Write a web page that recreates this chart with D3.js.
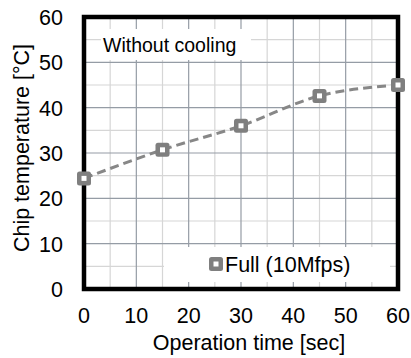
<!DOCTYPE html>
<html>
<head>
<meta charset="utf-8">
<script src="https://cdn.jsdelivr.net/npm/d3@7"></script>
<style>
  body { margin: 0; background: #fff; }
  text { font-family: "Liberation Sans", Arial, sans-serif; fill: #000; }
</style>
</head>
<body>
<div id="chart"></div>
<script>
const timeSec = [0, 15, 30, 45, 60];
const chipTemp = [24.4, 30.7, 36, 42.6, 45];
const xTicks = [0, 10, 20, 30, 40, 50, 60];
const yTicks = [0, 10, 20, 30, 40, 50, 60];
const minorTicks = [5, 15, 25, 35, 45, 55];
const seriesName = 'Full (10Mfps)';
const noteText = 'Without cooling';

const width = 411;
const height = 358;
const margin = { top: 17, right: 13, bottom: 69, left: 84 };

const svg = d3.select('#chart').append('svg')
  .attr('width', width)
  .attr('height', height);

const x = d3.scaleLinear().domain([0, 60]).range([margin.left, width - margin.right]);
const y = d3.scaleLinear().domain([0, 60]).range([height - margin.bottom, margin.top]);

const grid = svg.append('g');

// minor grid
grid.selectAll('.vminor').data(minorTicks).enter().append('line')
  .attr('x1', d => x(d)).attr('x2', d => x(d))
  .attr('y1', y(60)).attr('y2', y(0))
  .attr('stroke', '#d6d6d6').attr('stroke-width', 1.2);
grid.selectAll('.hminor').data(minorTicks).enter().append('line')
  .attr('y1', d => y(d)).attr('y2', d => y(d))
  .attr('x1', x(0)).attr('x2', x(60))
  .attr('stroke', '#d6d6d6').attr('stroke-width', 1.2);

// major grid
grid.selectAll('.vmajor').data(xTicks).enter().append('line')
  .attr('x1', d => x(d)).attr('x2', d => x(d))
  .attr('y1', y(60)).attr('y2', y(0))
  .attr('stroke', '#959ca5').attr('stroke-width', 1.2);
grid.selectAll('.hmajor').data(yTicks).enter().append('line')
  .attr('y1', d => y(d)).attr('y2', d => y(d))
  .attr('x1', x(0)).attr('x2', x(60))
  .attr('stroke', '#959ca5').attr('stroke-width', 1.2);

// note box
svg.append('rect')
  .attr('x', 101).attr('y', 29).attr('width', 150).attr('height', 31)
  .attr('fill', '#fff');
svg.append('text')
  .attr('x', 103).attr('y', 52)
  .style('font-size', '19.5px')
  .text(noteText);

// legend box
svg.append('rect')
  .attr('x', 164).attr('y', 247).attr('width', 226).attr('height', 35)
  .attr('fill', '#fff');

// data line
const line = d3.line()
  .x((d, i) => x(timeSec[i]))
  .y(d => y(d))
  .curve(d3.curveMonotoneX);

svg.append('path')
  .datum(chipTemp)
  .attr('d', line)
  .attr('fill', 'none')
  .attr('stroke', '#878787')
  .attr('stroke-width', 3)
  .attr('stroke-dasharray', '9,5');

// frame
svg.append('rect')
  .attr('x', x(0)).attr('y', y(60))
  .attr('width', x(60) - x(0)).attr('height', y(0) - y(60))
  .attr('fill', 'none')
  .attr('stroke', '#000')
  .attr('stroke-width', 4.5);

function drawMarker(g, cx, cy) {
  g.append('rect')
    .attr('x', cx - 7).attr('y', cy - 7).attr('width', 14).attr('height', 14)
    .attr('rx', 2.5)
    .attr('fill', '#7f7f7f');
  g.append('rect')
    .attr('x', cx - 2.5).attr('y', cy - 2.5).attr('width', 5).attr('height', 5)
    .attr('fill', '#fff');
}

const markers = svg.append('g');
chipTemp.forEach((v, i) => drawMarker(markers, x(timeSec[i]), y(v)));

// legend
drawMarker(svg.append('g'), 216, 264);
svg.append('text')
  .attr('x', 225).attr('y', 272)
  .style('font-size', '21.5px')
  .text(seriesName);

// axes labels
svg.append('g').selectAll('text').data(xTicks).enter().append('text')
  .attr('x', d => x(d)).attr('y', 323)
  .attr('text-anchor', 'middle')
  .style('font-size', '21.5px')
  .text(d => d);

svg.append('g').selectAll('text').data(yTicks).enter().append('text')
  .attr('x', 63).attr('y', d => y(d) + 8)
  .attr('text-anchor', 'end')
  .style('font-size', '21.5px')
  .text(d => d);

svg.append('text')
  .attr('x', 249).attr('y', 350)
  .attr('text-anchor', 'middle')
  .style('font-size', '21.5px')
  .text('Operation time [sec]');

svg.append('text')
  .attr('transform', 'translate(29,148) rotate(-90)')
  .attr('text-anchor', 'middle')
  .style('font-size', '21.5px')
  .text('Chip temperature [°C]');
</script>
</body>
</html>
